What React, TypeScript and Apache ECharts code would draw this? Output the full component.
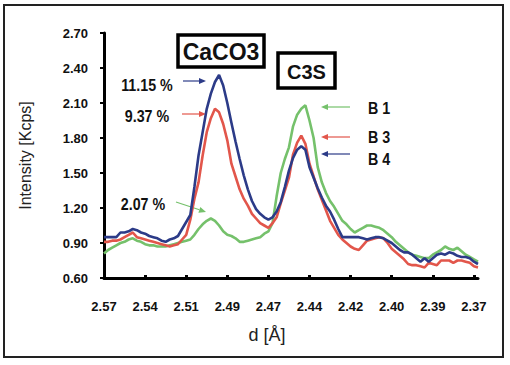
import React, { useEffect, useRef } from "react";
import * as echarts from "echarts";

const xTickLabels = ["2.57", "2.54", "2.51", "2.49", "2.47", "2.44", "2.42", "2.40", "2.39", "2.37"];
const yMin = 0.6;
const yMax = 2.7;
const yStep = 0.3;

const seriesB1 = [
  0.81, 0.84, 0.86, 0.88, 0.90, 0.91, 0.93, 0.94, 0.92, 0.91,
  0.89, 0.88, 0.88, 0.87, 0.87, 0.87, 0.88, 0.89, 0.90, 0.91,
  0.92, 0.93, 0.97, 1.02, 1.06, 1.09, 1.11, 1.09, 1.05, 1.00,
  0.97, 0.96, 0.94, 0.91, 0.91, 0.92, 0.93, 0.94, 0.95, 0.98,
  1.00, 1.07, 1.30, 1.50, 1.62, 1.72, 1.90, 2.00, 2.05, 2.08,
  1.95, 1.80, 1.55, 1.42, 1.33, 1.26, 1.21, 1.15, 1.09, 1.06,
  1.02, 0.99, 1.01, 1.03, 1.05, 1.05, 1.04, 1.03, 1.01, 0.98,
  0.95, 0.91, 0.88, 0.85, 0.82, 0.80, 0.79, 0.78, 0.77, 0.77,
  0.80, 0.82, 0.84, 0.87, 0.85, 0.84, 0.86, 0.83, 0.80, 0.78,
  0.76, 0.74,
];

const seriesB3 = [
  0.91, 0.91, 0.92, 0.92, 0.93, 0.95, 0.97, 0.99, 0.95, 0.94,
  0.93, 0.92, 0.91, 0.90, 0.89, 0.88, 0.87, 0.88, 0.89, 0.93,
  0.97, 1.10, 1.28, 1.42, 1.65, 1.85, 1.97, 2.05, 2.02, 1.92,
  1.78, 1.58, 1.47, 1.36, 1.28, 1.22, 1.15, 1.11, 1.07, 1.05,
  1.03, 1.07, 1.12, 1.24, 1.35, 1.46, 1.66, 1.76, 1.82, 1.75,
  1.58, 1.47, 1.36, 1.27, 1.18, 1.09, 1.03, 0.97, 0.93, 0.90,
  0.87, 0.85, 0.84, 0.88, 0.92, 0.93, 0.94, 0.95, 0.94, 0.90,
  0.85, 0.82, 0.79, 0.76, 0.72, 0.71, 0.71, 0.70, 0.69, 0.73,
  0.72, 0.71, 0.75, 0.75, 0.75, 0.73, 0.75, 0.75, 0.74, 0.73,
  0.70, 0.69,
];

const seriesB4 = [
  0.95, 0.95, 0.95, 0.95, 0.99, 0.99, 1.00, 1.02, 1.01, 0.99,
  0.98, 0.96, 0.95, 0.94, 0.92, 0.91, 0.93, 0.94, 0.96, 1.02,
  1.08, 1.14, 1.38, 1.65, 1.85, 2.05, 2.18, 2.28, 2.34, 2.25,
  2.10, 1.93, 1.77, 1.62, 1.48, 1.36, 1.26, 1.19, 1.15, 1.12,
  1.10, 1.12, 1.17, 1.25, 1.38, 1.52, 1.63, 1.70, 1.73, 1.70,
  1.55, 1.46, 1.37, 1.29, 1.22, 1.17, 1.10, 1.02, 0.95, 0.95,
  0.95, 0.95, 0.95, 0.94, 0.93, 0.94, 0.95, 0.95, 0.94, 0.92,
  0.90, 0.87, 0.84, 0.82, 0.82, 0.80, 0.77, 0.74, 0.77, 0.74,
  0.77, 0.80, 0.81, 0.80, 0.82, 0.81, 0.79, 0.78, 0.78, 0.77,
  0.74, 0.72,
];

const seriesNames = ["B 1", "B 3", "B 4"];
const peakLabels = ["11.15 %", "9.37 %", "2.07 %"];
const phaseLabels = ["CaCO3", "C3S"];

const BLUE = "#2c3b88";
const RED = "#e2564b";
const GREEN = "#75c16b";

const categories = seriesB1.map((_, i) => String(i));

const SANS = "Liberation Sans, Arial, sans-serif";

function arrow(x1: number, y1: number, x2: number, y2: number, color: string) {
  const dx = x2 - x1;
  const dy = y2 - y1;
  const len = Math.sqrt(dx * dx + dy * dy);
  const ux = dx / len;
  const uy = dy / len;
  const hl = 7;
  const hw = 3;
  const bx = x2 - ux * hl;
  const by = y2 - uy * hl;
  return [
    {
      type: "line",
      shape: { x1, y1, x2: bx, y2: by },
      style: { stroke: color, lineWidth: 1.2 },
      silent: true,
    },
    {
      type: "polygon",
      shape: {
        points: [
          [x2, y2],
          [bx - uy * hw, by + ux * hw],
          [bx + uy * hw, by - ux * hw],
        ],
      },
      style: { fill: color },
      silent: true,
    },
  ];
}

function label(text: string, x: number, y: number, size: number, sx: number, align: string = "center") {
  return {
    type: "text",
    x,
    y,
    scaleX: sx,
    style: {
      text,
      align,
      verticalAlign: "middle",
      fontFamily: SANS,
      fontWeight: "bold",
      fontSize: size,
      fill: "#111",
    },
    silent: true,
  };
}

export default function App() {
  const ref = useRef<HTMLDivElement>(null);

  useEffect(() => {
    document.body.style.margin = "0";
    const chart = echarts.init(ref.current!, null, { renderer: "svg" });
    chart.setOption({
      animation: false,
      backgroundColor: "#ffffff",
      grid: { left: 104, right: 32, top: 33, bottom: 87 },
      xAxis: {
        type: "category",
        data: categories,
        boundaryGap: false,
        axisLine: { lineStyle: { color: "#000", width: 3 } },
        axisTick: { interval: 9, length: 3, inside: true, lineStyle: { color: "#000", width: 3 } },
        axisLabel: {
          interval: 9,
          margin: 22,
          color: "#111",
          fontFamily: SANS,
          fontWeight: "bold",
          fontSize: 13,
          formatter: (_v: string, idx: number) => (idx % 10 === 0 ? xTickLabels[idx / 10] ?? "" : ""),
        },
        splitLine: { show: false },
      },
      yAxis: {
        type: "value",
        min: yMin,
        max: yMax,
        interval: yStep,
        name: "Intensity [Kcps]",
        nameLocation: "middle",
        nameGap: 71,
        nameTextStyle: { fontFamily: SANS, fontSize: 16, color: "#222" },
        axisLine: { show: true, lineStyle: { color: "#000", width: 3 } },
        axisTick: { show: true, length: 4, lineStyle: { color: "#000", width: 2 } },
        axisLabel: {
          margin: 16,
          color: "#111",
          fontFamily: SANS,
          fontWeight: "bold",
          fontSize: 13,
          formatter: (v: number) => v.toFixed(2),
        },
        splitLine: { show: false },
      },
      series: [
        { name: seriesNames[0], type: "line", data: seriesB1, symbol: "none", lineStyle: { color: GREEN, width: 2.6 }, itemStyle: { color: GREEN } },
        { name: seriesNames[1], type: "line", data: seriesB3, symbol: "none", lineStyle: { color: RED, width: 2.6 }, itemStyle: { color: RED } },
        { name: seriesNames[2], type: "line", data: seriesB4, symbol: "none", lineStyle: { color: BLUE, width: 2.6 }, itemStyle: { color: BLUE } },
      ],
      graphic: [
        {
          type: "rect",
          shape: { x: 4, y: 5, width: 499, height: 352 },
          style: { fill: "none", stroke: "#222", lineWidth: 2 },
          silent: true,
        },
        {
          type: "rect",
          shape: { x: 178, y: 35, width: 86, height: 32 },
          style: { fill: "#fff", stroke: "#000", lineWidth: 3.5 },
          silent: true,
        },
        {
          type: "rect",
          shape: { x: 278, y: 53, width: 57, height: 35 },
          style: { fill: "#fff", stroke: "#000", lineWidth: 3.5 },
          silent: true,
        },
        label(phaseLabels[0], 221, 52, 23, 1),
        label(phaseLabels[1], 306.5, 72, 20, 1),
        label(peakLabels[0], 147, 85, 17, 0.84),
        label(peakLabels[1], 147, 116, 17, 0.84),
        label(peakLabels[2], 143, 204, 17, 0.84),
        label(seriesNames[0], 368, 108, 17, 0.84, "left"),
        label(seriesNames[1], 368, 137, 17, 0.84, "left"),
        label(seriesNames[2], 368, 159, 17, 0.84, "left"),
        ...arrow(183, 81, 206, 81, BLUE),
        ...arrow(182, 114, 206, 114, RED),
        ...arrow(176, 202, 206, 212, GREEN),
        ...arrow(350, 107, 321, 107, GREEN),
        ...arrow(350, 137, 321, 137, RED),
        ...arrow(350, 154, 321, 154, BLUE),
        {
          type: "text",
          x: 267,
          y: 335,
          style: {
            text: "d [Å]",
            align: "center",
            verticalAlign: "middle",
            fontFamily: SANS,
            fontSize: 18,
            fill: "#222",
          },
          silent: true,
        },
      ],
    });
    return () => chart.dispose();
  }, []);

  return (
    <div
      ref={ref}
      style={{ position: "absolute", left: 0, top: 0, width: 510, height: 365 }}
    />
  );
}
